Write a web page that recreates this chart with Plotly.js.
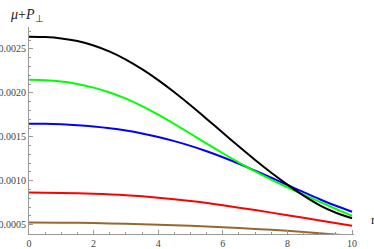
<!DOCTYPE html>
<html>
<head>
<meta charset="utf-8">
<script src="https://cdn.plot.ly/plotly-3.0.1.min.js"></script>
<style>html,body{margin:0;padding:0;background:#fff;}#chart{width:374px;height:249px;}</style>
</head>
<body>
<div id="chart"></div>
<script>
const rFine = [0, 0.5, 1, 1.5, 2, 2.5, 3, 3.5, 4, 4.5, 5, 5.5, 6, 6.5, 7, 7.5, 8, 8.5, 9, 9.5, 10];
const rCoarse = [0, 1, 2, 3, 4, 5, 6, 7, 8, 9, 10];
const blackSeries = [0.00264, 0.002635, 0.00262, 0.00259, 0.00254, 0.00247, 0.00238, 0.00227, 0.002145, 0.002007, 0.001859, 0.001704, 0.001546, 0.001389, 0.001236, 0.001091, 0.000956, 0.000831, 0.000721, 0.000636, 0.000573];
const greenSeries = [0.00215, 0.002145, 0.00213, 0.002102, 0.00206, 0.002004, 0.001934, 0.001849, 0.001752, 0.001646, 0.001535, 0.001423, 0.001313, 0.001207, 0.001107, 0.001013, 0.000925, 0.000841, 0.000759, 0.000679, 0.0006];
const blueSeries  = [0.00165, 0.001648, 0.001642, 0.001632, 0.001617, 0.001597, 0.001571, 0.001538, 0.001498, 0.001451, 0.001397, 0.001336, 0.001268, 0.001194, 0.001114, 0.001034, 0.000952, 0.00087, 0.00079, 0.000715, 0.000647];
const redSeries   = [0.000867, 0.000861, 0.000851, 0.000834, 0.000807, 0.000769, 0.000721, 0.000666, 0.000608, 0.000548, 0.000488];
const brownSeries = [0.000525, 0.000523, 0.000518, 0.00051, 0.0005, 0.000488, 0.000472, 0.000452, 0.00043, 0.000402, 0.000372];
const xTickVals = [0, 2, 4, 6, 8, 10];
const xTickText = ["0", "2", "4", "6", "8", "10"];
const yTickVals = [0.0005, 0.0010, 0.0015, 0.0020, 0.0025];
const yTickText = ["0.0005", "0.0010", "0.0015", "0.0020", "0.0025"];

const series = [
  {x: rCoarse, y: brownSeries, color: 'rgb(153,102,51)'},
  {x: rCoarse, y: redSeries, color: 'rgb(255,0,0)'},
  {x: rFine, y: blueSeries, color: 'rgb(0,0,255)'},
  {x: rFine, y: greenSeries, color: 'rgb(0,255,0)'},
  {x: rFine, y: blackSeries, color: 'rgb(0,0,0)'}
];
const traces = series.map(s => ({
  x: s.x, y: s.y, type: 'scatter', mode: 'lines',
  line: {color: s.color, width: 2, shape: 'spline', smoothing: 0.8},
  hoverinfo: 'skip', showlegend: false
}));

const tickFont = {family: 'Liberation Serif, Times New Roman, serif', size: 10, color: '#444'};
const layout = {
  width: 374, height: 249,
  margin: {l: 29, r: 20, t: 27, b: 15, pad: 0},
  paper_bgcolor: '#fff', plot_bgcolor: '#fff',
  showlegend: false,
  xaxis: {
    range: [0, 10.06], showgrid: false, zeroline: false,
    showline: true, linecolor: '#999', linewidth: 1,
    ticks: 'inside', ticklen: 4, tickcolor: '#999', tickwidth: 1,
    tickvals: xTickVals, ticktext: xTickText, tickfont: tickFont,
    minor: {dtick: 0.5, tick0: 0, ticks: 'inside', ticklen: 2, tickcolor: '#999', showgrid: false}
  },
  yaxis: {
    range: [0.000394, 0.00275], showgrid: false, zeroline: false,
    showline: true, linecolor: '#999', linewidth: 1,
    ticks: 'inside', ticklen: 4, tickcolor: '#999', tickwidth: 1,
    tickvals: yTickVals, ticktext: yTickText, tickfont: tickFont,
    minor: {dtick: 0.0001, tick0: 0.0005, ticks: 'inside', ticklen: 2, tickcolor: '#999', showgrid: false}
  },
  annotations: [
    {text: '<i>μ</i>+<i>P</i><sub>⊥</sub>', xref: 'paper', yref: 'paper', x: -0.065, y: 1.055,
     xanchor: 'left', yanchor: 'middle', showarrow: false,
     font: {family: 'Liberation Serif, Times New Roman, serif', size: 14, color: '#222'}},
    {text: 'r', xref: 'paper', yref: 'paper', x: 1.045, y: 0.07,
     xanchor: 'left', yanchor: 'middle', showarrow: false,
     font: {family: 'Liberation Serif, Times New Roman, serif', size: 13, color: '#222'}}
  ]
};
Plotly.newPlot('chart', traces, layout, {staticPlot: true, displayModeBar: false});
</script>
</body>
</html>
